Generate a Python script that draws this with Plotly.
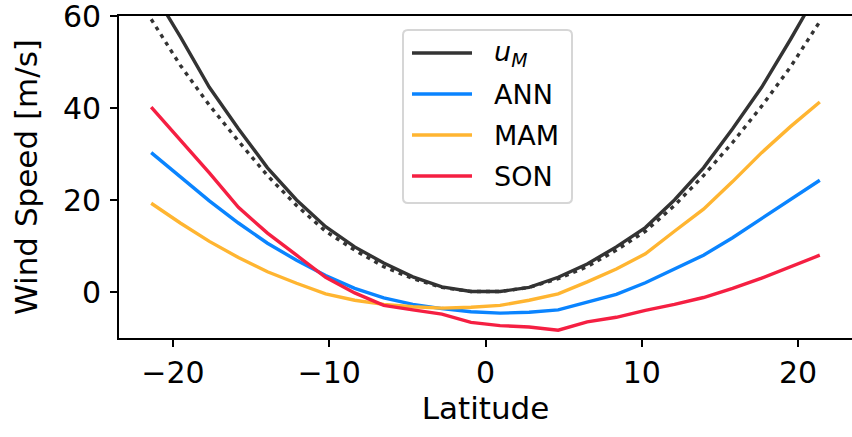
import plotly.graph_objects as go

# Latitude grid (degrees)
lat = [-21.39, -19.53, -17.67, -15.81, -13.95, -12.09, -10.23, -8.37, -6.51, -4.65, -2.79, -0.93,
       0.93, 2.79, 4.65, 6.51, 8.37, 10.23, 12.09, 13.95, 15.81, 17.67, 19.53, 21.39]

# Angular-momentum-conserving wind u_M (m/s)
u_m = [66.0, 55.5, 44.5, 35.5, 27.0, 20.0, 14.2, 9.8, 6.3, 3.3, 1.1, 0.1,
       0.1, 1.0, 3.2, 6.1, 9.8, 14.0, 20.0, 27.0, 35.5, 44.5, 55.0, 66.0]

# Reference curve (dotted)
u_ref = [59.3, 49.3, 40.6, 32.8, 25.3, 18.8, 13.2, 9.1, 5.5, 2.9, 1.0, 0.1,
         0.1, 1.0, 2.9, 5.5, 9.1, 13.2, 18.8, 25.3, 32.5, 40.4, 49.0, 58.8]

# Zonal-mean upper-level winds (m/s)
ann = [30.3, 25.0, 19.8, 15.0, 10.6, 6.9, 3.6, 0.8, -1.3, -2.7, -3.6, -4.3,
       -4.6, -4.4, -3.9, -2.2, -0.5, 2.0, 5.0, 8.0, 11.8, 16.0, 20.3, 24.3]
mam = [19.3, 15.0, 11.0, 7.5, 4.4, 1.9, -0.4, -1.8, -2.7, -3.2, -3.5, -3.3,
       -2.9, -1.8, -0.4, 2.2, 5.0, 8.3, 13.2, 18.0, 24.0, 30.3, 36.0, 41.3]
son = [40.2, 33.0, 25.9, 18.4, 12.8, 8.0, 3.2, -0.2, -2.9, -3.9, -4.8, -6.6,
       -7.3, -7.6, -8.3, -6.5, -5.5, -4.0, -2.7, -1.2, 0.8, 3.0, 5.5, 8.0]

x_ticks = [-20, -10, 0, 10, 20]
y_ticks = [0, 20, 40, 60]

legend_names = ["<i>u</i><sub><i>M</i></sub>", "ANN", "MAM", "SON"]
legend_colors = ["#333333", "#0a84ff", "#ffb531", "#f51f42"]

FONT = "DejaVu Sans"
FS = 30
LEG_FS = 27
LW = 3.4

W, H = 852, 437
ML, MR, MT, MB = 119, 0, 16, 99
PW, PH = W - ML - MR, H - MT - MB


def px_x(px):
    return (px - ML) / PW


def px_y(py):
    return (H - MB - py) / PH


fig = go.Figure()
series = [(u_m, legend_colors[0], None), (u_ref, legend_colors[0], "4px,5px"),
          (ann, legend_colors[1], None), (mam, legend_colors[2], None), (son, legend_colors[3], None)]
for vals, col, dash in series:
    fig.add_trace(go.Scatter(x=lat, y=vals, mode="lines", showlegend=False, hoverinfo="skip",
                             line=dict(color=col, width=LW, dash=dash)))

# Legend frame with rounded corners (pixel geometry converted to paper units)
bx0, bx1, by0, by1, r = 403, 572, 30, 203, 5
path = (f"M {px_x(bx0 + r)},{px_y(by0)} L {px_x(bx1 - r)},{px_y(by0)} "
        f"Q {px_x(bx1)},{px_y(by0)} {px_x(bx1)},{px_y(by0 + r)} "
        f"L {px_x(bx1)},{px_y(by1 - r)} Q {px_x(bx1)},{px_y(by1)} {px_x(bx1 - r)},{px_y(by1)} "
        f"L {px_x(bx0 + r)},{px_y(by1)} Q {px_x(bx0)},{px_y(by1)} {px_x(bx0)},{px_y(by1 - r)} "
        f"L {px_x(bx0)},{px_y(by0 + r)} Q {px_x(bx0)},{px_y(by0)} {px_x(bx0 + r)},{px_y(by0)} Z")
fig.add_shape(type="path", path=path, xref="paper", yref="paper",
              fillcolor="rgba(255,255,255,0.85)", line=dict(color="#d6d6d6", width=2), layer="above")

row_y = [53, 94, 135, 176]
for name, col, ry in zip(legend_names, legend_colors, row_y):
    fig.add_shape(type="line", xref="paper", yref="paper",
                  x0=px_x(412), x1=px_x(472), y0=px_y(ry), y1=px_y(ry),
                  line=dict(color=col, width=LW), layer="above")
    fig.add_annotation(xref="paper", yref="paper", x=px_x(492), y=px_y(ry),
                       xanchor="left", yanchor="middle", text=name, showarrow=False,
                       font=dict(family=FONT, size=LEG_FS, color="black"))

axis_common = dict(
    showgrid=False, zeroline=False, showline=True, linecolor="black", linewidth=1.6,
    ticks="outside", ticklen=7, tickwidth=1.6, tickcolor="black",
    tickfont=dict(family=FONT, size=FS, color="black"), ticklabeloverflow="allow",
)

fig.update_layout(
    width=W, height=H,
    margin=dict(l=ML, r=MR, t=MT, b=MB),
    paper_bgcolor="white", plot_bgcolor="white",
    font=dict(family=FONT, size=FS, color="black"),
    xaxis=dict(range=[-23.45, 23.45], tickvals=x_ticks, mirror=True, automargin=False,
               title=dict(text="Latitude", font=dict(family=FONT, size=31), standoff=8),
               **axis_common),
    yaxis=dict(range=[-10, 60], tickvals=y_ticks, automargin=False, ticklabelstandoff=3,
               title=dict(text="Wind Speed [m/s]", font=dict(family=FONT, size=31), standoff=16),
               **axis_common),
    showlegend=False,
)

fig.write_html("out.html")
